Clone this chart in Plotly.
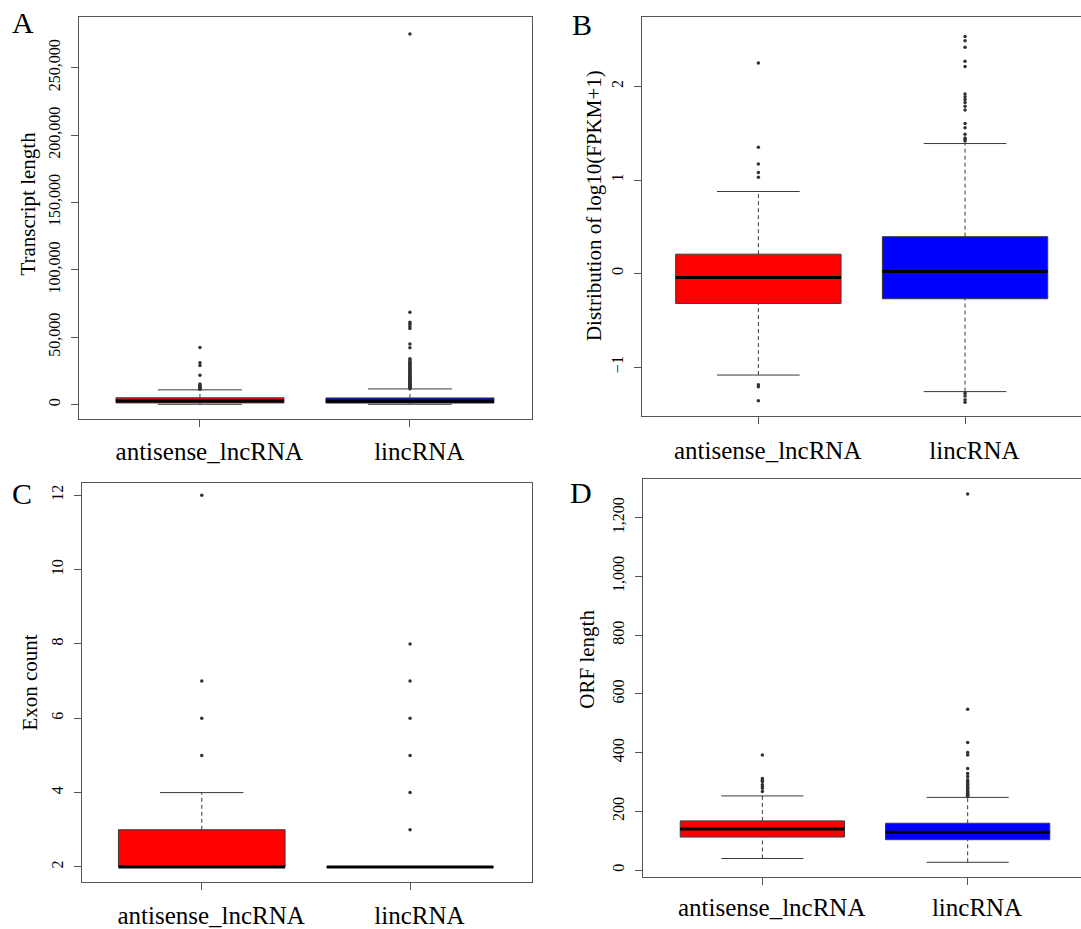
import plotly.graph_objects as go

W, H = 1081, 929
FONT = "Liberation Serif"

categories = ["antisense_lncRNA", "lincRNA"]
positions = [1, 2]
box_colors = ["#FF0000", "#0000FF"]

# ---------------- Panel A: Transcript length ----------------
A_lower = [200, 200]
A_q1 = [1200, 1100]
A_median = [2600, 2400]
A_q3 = [5000, 4900]
A_upper = [10900, 11600]
A_out_antisense = [42400, 31000, 29000, 21700, 15200, 14500, 13800, 13200,
                   12600, 12100, 11600, 11300]
A_out_linc = [275000, 68500, 61000, 59500, 58000, 56500, 45000, 42200,
              34000, 33000, 32000, 31200, 30500, 29800, 29000, 28200, 27500,
              26800, 26000, 25300, 24600, 24000, 23300, 22600, 22000, 21400,
              20800, 20200, 19600, 19000, 18400, 17800, 17300, 16800, 16300,
              15800, 15300, 14800, 14300, 13900, 13500, 13100, 12700, 12300,
              11900]
A_ticks = [0, 50000, 100000, 150000, 200000, 250000]
A_ticktext = ["0", "50,000", "100,000", "150,000", "200,000", "250,000"]

# ---------------- Panel B: log10(FPKM+1) ----------------
B_lower = [-1.086, -1.263]
B_q1 = [-0.32, -0.27]
B_median = [-0.043, 0.021]
B_q3 = [0.207, 0.394]
B_upper = [0.877, 1.39]
B_out_antisense = [2.25, 1.35, 1.17, 1.08, 1.03, -1.19, -1.21, -1.36]
B_out_linc = [2.535, 2.49, 2.42, 2.27, 2.215, 1.92, 1.89, 1.86, 1.83, 1.79,
              1.75, 1.605, 1.56, 1.49, 1.45, 1.435, 1.416,
              -1.28, -1.31, -1.35, -1.377]
B_ticks = [-1, 0, 1, 2]
B_ticktext = ["\u22121", "0", "1", "2"]

# ---------------- Panel C: Exon count ----------------
C_lower = [2, 2]
C_q1 = [2, 2]
C_median = [2, 2]
C_q3 = [3, 2]
C_upper = [4, 2]
C_out_antisense = [5, 6, 7, 12]
C_out_linc = [3, 4, 5, 6, 7, 8]
C_ticks = [2, 4, 6, 8, 10, 12]
C_ticktext = ["2", "4", "6", "8", "10", "12"]

# ---------------- Panel D: ORF length ----------------
D_lower = [40, 27]
D_q1 = [113, 104]
D_median = [140, 129]
D_q3 = [168, 160]
D_upper = [253, 248]
D_out_antisense = [392, 312, 306, 301, 291, 285, 279, 268]
D_out_linc = [1281, 548, 435, 401, 392, 346, 329, 319, 308, 302, 297, 292,
              287, 282, 278, 274, 270, 266, 262, 258, 255, 251]
D_ticks = [0, 200, 400, 600, 800, 1000, 1200]
D_ticktext = ["0", "200", "400", "600", "800", "1,000", "1,200"]

# ---------------- layout geometry (pixels) ----------------
panels = [
    dict(key="A", stats=(A_lower, A_q1, A_median, A_q3, A_upper),
         outs=(A_out_antisense, A_out_linc), ticks=A_ticks, ticktext=A_ticktext,
         title="Transcript length", px=(79, 531.7), py=(17, 421.3),
         xr=(0.424, 2.58), yr=(-11100, 287700), mirror_y=True, xstand=3,
         title_x=28.5, title_y=205, letter_xy=(23, 23)),
    dict(key="B", stats=(B_lower, B_q1, B_median, B_q3, B_upper),
         outs=(B_out_antisense, B_out_linc), ticks=B_ticks, ticktext=B_ticktext,
         title="Distribution of log10(FPKM+1)", px=(642, 1081), py=(17, 418),
         xr=(0.437, 2.561), yr=(-1.526, 2.744), mirror_y=False, xstand=5,
         title_x=594, title_y=207, letter_xy=(582, 25)),
    dict(key="C", stats=(C_lower, C_q1, C_median, C_q3, C_upper),
         outs=(C_out_antisense, C_out_linc), ticks=C_ticks, ticktext=C_ticktext,
         title="Exon count", px=(82, 531.7), py=(485, 886),
         xr=(0.425, 2.584), yr=(1.59, 12.33), mirror_y=True, xstand=4,
         title_x=30.5, title_y=686, letter_xy=(22, 496)),
    dict(key="D", stats=(D_lower, D_q1, D_median, D_q3, D_upper),
         outs=(D_out_antisense, D_out_linc), ticks=D_ticks, ticktext=D_ticktext,
         title="ORF length", px=(643.3, 1081), py=(481, 880.7),
         xr=(0.42, 2.552), yr=(-22.7, 1332), mirror_y=False, xstand=1,
         title_x=587.5, title_y=662, letter_xy=(581, 495)),
]

# category labels sit slightly right of their ticks in the original
x_ticktext = ["\u2002\u00a0" + c for c in categories]

fig = go.Figure()
LINE = "#3a3a3a"
AXC = "#555555"
annotations = []
layout_axes = {}

for i, p in enumerate(panels):
    n = i + 1
    xa = "x" if n == 1 else f"x{n}"
    ya = "y" if n == 1 else f"y{n}"
    lower, q1, med, q3, upper = p["stats"]
    for j, pos in enumerate(positions):
        # whiskers (dashed)
        fig.add_trace(go.Scatter(x=[pos, pos], y=[q3[j], upper[j]], mode="lines",
                                 line=dict(color=LINE, width=1, dash="4px,3px"),
                                 xaxis=xa, yaxis=ya, hoverinfo="skip", showlegend=False))
        fig.add_trace(go.Scatter(x=[pos, pos], y=[lower[j], q1[j]], mode="lines",
                                 line=dict(color=LINE, width=1, dash="4px,3px"),
                                 xaxis=xa, yaxis=ya, hoverinfo="skip", showlegend=False))
        # staples
        for v in (upper[j], lower[j]):
            fig.add_trace(go.Scatter(x=[pos - 0.2, pos + 0.2], y=[v, v], mode="lines",
                                     line=dict(color=LINE, width=1),
                                     xaxis=xa, yaxis=ya, hoverinfo="skip", showlegend=False))
        # box
        fig.add_trace(go.Box(x=[pos], q1=[q1[j]], median=[med[j]], q3=[q3[j]],
                             lowerfence=[q1[j]], upperfence=[q3[j]],
                             width=0.8, whiskerwidth=0,
                             fillcolor=box_colors[j], line=dict(color=LINE, width=1),
                             boxpoints=False, xaxis=xa, yaxis=ya,
                             hoverinfo="skip", showlegend=False))
        # median (thick)
        fig.add_trace(go.Scatter(x=[pos - 0.4, pos + 0.4], y=[med[j], med[j]], mode="lines",
                                 line=dict(color="black", width=3),
                                 xaxis=xa, yaxis=ya, hoverinfo="skip", showlegend=False))
        # outliers
        outs = p["outs"][j]
        fig.add_trace(go.Scatter(x=[pos] * len(outs), y=outs, mode="markers",
                                 marker=dict(symbol="circle", size=3.5, color="#333333"),
                                 xaxis=xa, yaxis=ya, hoverinfo="skip", showlegend=False))

    x0, x1 = p["px"]
    y0, y1 = p["py"]
    xkey = "xaxis" if n == 1 else f"xaxis{n}"
    ykey = "yaxis" if n == 1 else f"yaxis{n}"
    layout_axes[xkey] = dict(
        domain=[x0 / W, min(x1 / W, 1.0)], range=list(p["xr"]), anchor=ya,
        tickmode="array", tickvals=positions, ticktext=x_ticktext,
        ticks="outside", ticklen=7, tickcolor=AXC, showline=True, mirror=True,
        linecolor=AXC, linewidth=1, showgrid=False, zeroline=False,
        tickfont=dict(family=FONT, size=25, color="black"),
        ticklabelstandoff=p["xstand"])
    layout_axes[ykey] = dict(
        domain=[1 - y1 / H, 1 - y0 / H], range=list(p["yr"]), anchor=xa,
        tickmode="array", tickvals=p["ticks"], ticktext=p["ticktext"],
        tickangle=-90, ticks="outside", ticklen=7, tickcolor=AXC,
        showline=True, mirror=p["mirror_y"], linecolor=AXC, linewidth=1,
        showgrid=False, zeroline=False, ticklabelstandoff=5,
        tickfont=dict(family=FONT, size=16, color="black"))
    annotations.append(dict(text=p["title"], x=p["title_x"] / W, y=1 - p["title_y"] / H,
                            xref="paper", yref="paper", showarrow=False, textangle=-90,
                            xanchor="center", yanchor="middle",
                            font=dict(family=FONT, size=21, color="black")))
    lx, ly = p["letter_xy"]
    annotations.append(dict(text=p["key"], x=lx / W, y=1 - ly / H,
                            xref="paper", yref="paper", showarrow=False,
                            xanchor="center", yanchor="middle",
                            font=dict(family=FONT, size=30, color="black")))

fig.update_layout(
    width=W, height=H, margin=dict(l=0, r=0, t=0, b=0),
    paper_bgcolor="white", plot_bgcolor="white",
    showlegend=False, boxmode="overlay",
    annotations=annotations, **layout_axes)

fig.write_html("out.html")
